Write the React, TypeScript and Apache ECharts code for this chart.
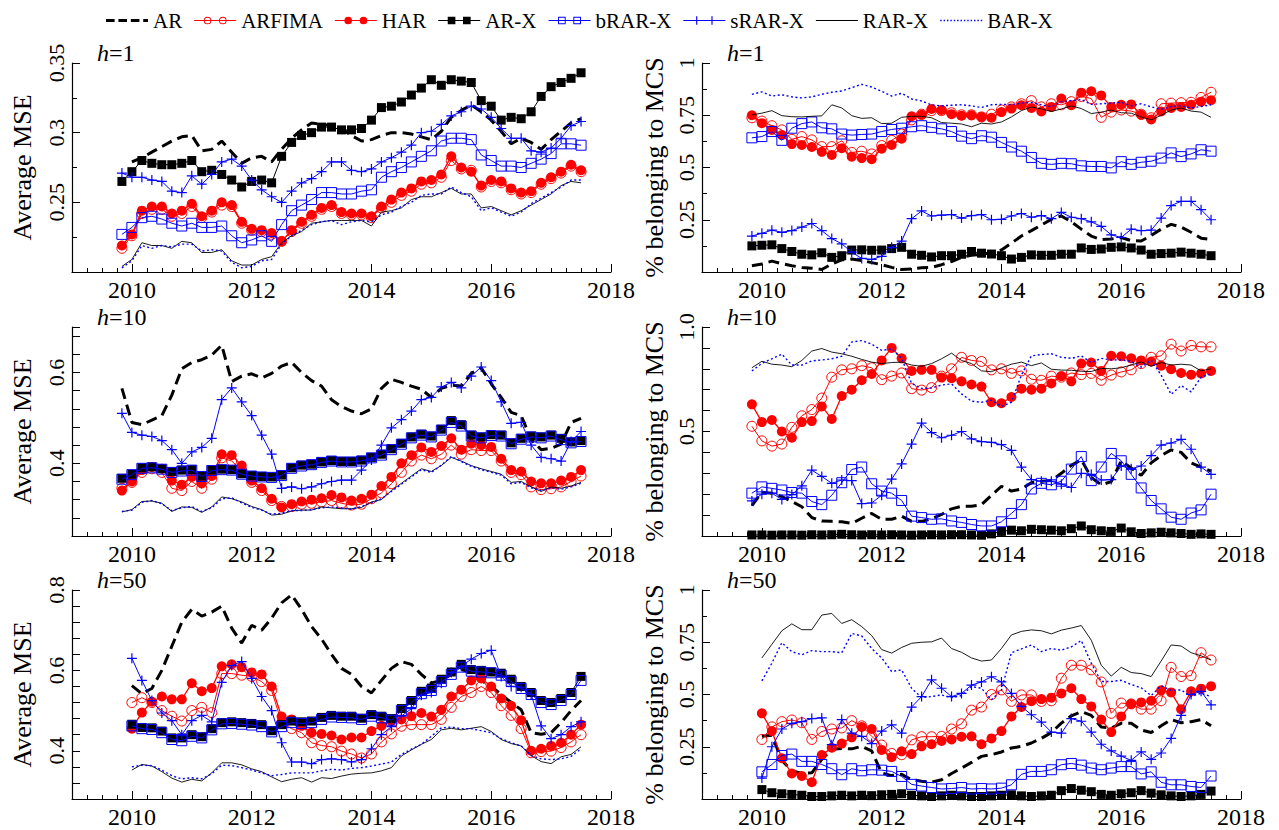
import React, { useEffect, useRef } from 'react';
import * as echarts from 'echarts';

// ---------------------------------------------------------------------------
// Sampling dates (decimal years, one observation every second month)
// ---------------------------------------------------------------------------
function bimonthly(year: number, month: number, count: number): number[] {
  const out: number[] = [];
  for (let i = 0; i < count; i++) out.push(+(year + (month - 1 + 2 * i) / 12).toFixed(4));
  return out;
}
const DATES_A = bimonthly(2009, 11, 47); // h=1 and h=10 panels
const DATES_B = bimonthly(2010, 1, 46); // h=50 panels

const MODELS = ['AR', 'ARFIMA', 'HAR', 'AR-X', 'bRAR-X', 'sRAR-X', 'RAR-X', 'BAR-X'];
const X_LABEL_YEARS = [2010, 2012, 2014, 2016, 2018];

// ---------------------------------------------------------------------------
// Average MSE, h = 1
// ---------------------------------------------------------------------------
const MSE_H1_AR = [null,
  0.279, 0.282, 0.286, 0.290, 0.294, 0.297, 0.298, 0.287, 0.288, 0.294, 0.286, 0.278,
  0.282, 0.283, 0.279, 0.288, 0.296, 0.302, 0.307, 0.306, 0.305, 0.303, 0.298, 0.294,
  0.295, 0.298, 0.300, 0.300, 0.299, 0.297, 0.295, 0.301, 0.311, 0.316, 0.320, 0.315,
  0.309, 0.301, 0.292, 0.296, 0.293, 0.288, 0.295, 0.301, 0.307, 0.310];
const MSE_H1_ARFIMA = [0.217,
  0.226, 0.242, 0.245, 0.245, 0.240, 0.242, 0.247, 0.239, 0.243, 0.248, 0.247, 0.235,
  0.230, 0.229, 0.227, 0.222, 0.229, 0.235, 0.240, 0.245, 0.247, 0.242, 0.241, 0.241,
  0.239, 0.246, 0.250, 0.255, 0.258, 0.263, 0.264, 0.268, 0.280, 0.274, 0.273, 0.261,
  0.265, 0.264, 0.259, 0.256, 0.257, 0.263, 0.267, 0.271, 0.276, 0.272];
const MSE_H1_HAR = [0.219,
  0.227, 0.244, 0.247, 0.247, 0.242, 0.244, 0.249, 0.240, 0.244, 0.250, 0.248, 0.236,
  0.231, 0.230, 0.228, 0.222, 0.230, 0.236, 0.241, 0.246, 0.248, 0.243, 0.242, 0.242,
  0.240, 0.247, 0.252, 0.257, 0.260, 0.265, 0.266, 0.270, 0.283, 0.275, 0.272, 0.262,
  0.266, 0.265, 0.260, 0.257, 0.258, 0.264, 0.268, 0.272, 0.277, 0.273];
const MSE_H1_ARX = [0.265,
  0.272, 0.280, 0.278, 0.277, 0.277, 0.278, 0.280, 0.272, 0.273, 0.270, 0.266, 0.261,
  0.265, 0.266, 0.264, 0.283, 0.293, 0.298, 0.300, 0.304, 0.304, 0.302, 0.302, 0.303,
  0.309, 0.318, 0.319, 0.322, 0.327, 0.332, 0.338, 0.334, 0.338, 0.337, 0.336, 0.323,
  0.319, 0.309, 0.311, 0.310, 0.315, 0.326, 0.333, 0.336, 0.339, 0.343];
const MSE_H1_BRARX = [0.227,
  0.232, 0.239, 0.240, 0.238, 0.235, 0.233, 0.235, 0.232, 0.232, 0.233, 0.226, 0.221,
  0.223, 0.226, 0.222, 0.234, 0.244, 0.248, 0.252, 0.257, 0.257, 0.256, 0.256, 0.258,
  0.259, 0.268, 0.272, 0.275, 0.279, 0.283, 0.287, 0.294, 0.296, 0.296, 0.295, 0.284,
  0.280, 0.276, 0.276, 0.275, 0.278, 0.281, 0.285, 0.292, 0.292, 0.291];
const MSE_H1_SRARX = [0.271,
  0.268, 0.268, 0.266, 0.265, 0.258, 0.257, 0.269, 0.263, 0.270, 0.279, 0.281, 0.276,
  0.266, 0.259, 0.254, 0.250, 0.258, 0.264, 0.267, 0.272, 0.279, 0.279, 0.273, 0.272,
  0.274, 0.279, 0.282, 0.286, 0.291, 0.300, 0.301, 0.306, 0.312, 0.315, 0.319, 0.317,
  0.311, 0.303, 0.296, 0.296, 0.287, 0.286, 0.289, 0.296, 0.305, 0.308];
const MSE_H1_RARX = [0.204,
  0.209, 0.221, 0.219, 0.219, 0.217, 0.222, 0.221, 0.214, 0.214, 0.216, 0.208, 0.205,
  0.205, 0.209, 0.211, 0.221, 0.226, 0.229, 0.235, 0.236, 0.237, 0.237, 0.237, 0.237,
  0.233, 0.243, 0.244, 0.246, 0.252, 0.254, 0.254, 0.257, 0.260, 0.256, 0.256, 0.246,
  0.247, 0.244, 0.241, 0.244, 0.248, 0.252, 0.256, 0.262, 0.265, 0.264];
const MSE_H1_BARX = [0.203,
  0.208, 0.219, 0.217, 0.219, 0.218, 0.220, 0.220, 0.215, 0.216, 0.215, 0.207, 0.203,
  0.204, 0.208, 0.209, 0.220, 0.226, 0.230, 0.234, 0.236, 0.237, 0.234, 0.236, 0.237,
  0.236, 0.241, 0.243, 0.247, 0.250, 0.255, 0.256, 0.256, 0.261, 0.257, 0.254, 0.244,
  0.246, 0.243, 0.240, 0.243, 0.249, 0.253, 0.257, 0.261, 0.266, 0.266];

// ---------------------------------------------------------------------------
// Share of windows in the model confidence set, h = 1
// ---------------------------------------------------------------------------
const MCS_H1_AR = [0.030,
  0.038, 0.052, 0.040, 0.030, 0.022, 0.018, 0.012, 0.038, 0.058, 0.062, 0.055, 0.045,
  0.035, 0.022, 0.012, 0.015, 0.020, 0.022, 0.035, 0.050, 0.070, 0.080, 0.085, 0.092,
  0.105, 0.138, 0.172, 0.198, 0.225, 0.252, 0.268, 0.240, 0.205, 0.172, 0.155, 0.158,
  0.165, 0.150, 0.148, 0.175, 0.205, 0.228, 0.215, 0.190, 0.162, 0.155];
const MCS_H1_ARFIMA = [0.738,
  0.722, 0.700, 0.680, 0.635, 0.648, 0.632, 0.600, 0.600, 0.628, 0.572, 0.578, 0.565,
  0.605, 0.630, 0.660, 0.728, 0.755, 0.772, 0.772, 0.762, 0.752, 0.752, 0.742, 0.755,
  0.775, 0.790, 0.805, 0.820, 0.790, 0.805, 0.800, 0.815, 0.840, 0.830, 0.740, 0.765,
  0.775, 0.770, 0.755, 0.738, 0.805, 0.808, 0.810, 0.812, 0.835, 0.860];
const MCS_H1_HAR = [0.750,
  0.712, 0.680, 0.655, 0.612, 0.608, 0.598, 0.575, 0.560, 0.592, 0.552, 0.545, 0.540,
  0.590, 0.608, 0.638, 0.745, 0.752, 0.780, 0.775, 0.755, 0.748, 0.750, 0.742, 0.738,
  0.765, 0.782, 0.798, 0.785, 0.768, 0.790, 0.830, 0.798, 0.858, 0.865, 0.845, 0.790,
  0.800, 0.802, 0.752, 0.730, 0.768, 0.785, 0.790, 0.800, 0.815, 0.822];
const MCS_H1_ARX = [0.125,
  0.128, 0.130, 0.112, 0.098, 0.085, 0.082, 0.092, 0.070, 0.078, 0.105, 0.106, 0.104,
  0.105, 0.112, 0.118, 0.085, 0.080, 0.072, 0.078, 0.078, 0.085, 0.098, 0.090, 0.086,
  0.078, 0.062, 0.070, 0.082, 0.080, 0.080, 0.085, 0.085, 0.115, 0.108, 0.110, 0.118,
  0.120, 0.115, 0.105, 0.085, 0.088, 0.090, 0.095, 0.090, 0.085, 0.078];
const MCS_H1_BRARX = [0.642,
  0.648, 0.672, 0.630, 0.688, 0.710, 0.718, 0.690, 0.685, 0.660, 0.655, 0.658, 0.660,
  0.672, 0.682, 0.688, 0.695, 0.700, 0.692, 0.685, 0.672, 0.650, 0.638, 0.652, 0.645,
  0.620, 0.598, 0.578, 0.548, 0.520, 0.515, 0.520, 0.518, 0.508, 0.505, 0.505, 0.498,
  0.528, 0.515, 0.525, 0.530, 0.545, 0.570, 0.552, 0.565, 0.585, 0.578];
const MCS_H1_SRARX = [0.172,
  0.185, 0.200, 0.190, 0.198, 0.215, 0.232, 0.198, 0.160, 0.135, 0.095, 0.065, 0.060,
  0.075, 0.118, 0.148, 0.255, 0.292, 0.268, 0.272, 0.275, 0.258, 0.270, 0.275, 0.250,
  0.252, 0.268, 0.280, 0.262, 0.270, 0.255, 0.285, 0.262, 0.255, 0.240, 0.218, 0.178,
  0.165, 0.205, 0.198, 0.200, 0.258, 0.318, 0.338, 0.338, 0.298, 0.250];
const MCS_H1_RARX = [0.752,
  0.760, 0.772, 0.748, 0.743, 0.742, 0.745, 0.747, 0.800, 0.785, 0.748, 0.735, 0.738,
  0.710, 0.712, 0.740, 0.745, 0.745, 0.738, 0.715, 0.712, 0.708, 0.695, 0.712, 0.708,
  0.718, 0.742, 0.772, 0.790, 0.780, 0.768, 0.780, 0.795, 0.782, 0.758, 0.765, 0.775,
  0.762, 0.760, 0.742, 0.728, 0.750, 0.775, 0.785, 0.770, 0.765, 0.740];
const MCS_H1_BARX = [0.850,
  0.862, 0.842, 0.848, 0.838, 0.833, 0.838, 0.850, 0.860, 0.866, 0.882, 0.898, 0.885,
  0.865, 0.842, 0.855, 0.828, 0.818, 0.800, 0.795, 0.798, 0.800, 0.795, 0.787, 0.800,
  0.802, 0.800, 0.808, 0.812, 0.800, 0.790, 0.815, 0.820, 0.825, 0.802, 0.805, 0.808,
  0.812, 0.795, 0.805, 0.790, 0.778, 0.792, 0.795, 0.785, 0.792, 0.800];

// ---------------------------------------------------------------------------
// Average MSE, h = 10
// ---------------------------------------------------------------------------
const MSE_H10_AR = [0.565,
  0.490, 0.485, 0.495, 0.505, 0.550, 0.608, 0.622, 0.628, 0.638, 0.660, 0.580, 0.592,
  0.597, 0.588, 0.598, 0.614, 0.622, 0.600, 0.582, 0.570, 0.540, 0.525, 0.515, 0.509,
  0.520, 0.565, 0.585, 0.578, 0.570, 0.563, 0.545, 0.565, 0.572, 0.570, 0.598, 0.610,
  0.575, 0.545, 0.512, 0.505, 0.452, 0.430, 0.433, 0.442, 0.490, 0.499];
const MSE_H10_ARFIMA = [0.345,
  0.358, 0.380, 0.388, 0.380, 0.345, 0.340, 0.360, 0.345, 0.365, 0.412, 0.405, 0.385,
  0.358, 0.340, 0.318, 0.305, 0.305, 0.310, 0.312, 0.315, 0.318, 0.312, 0.308, 0.310,
  0.322, 0.335, 0.355, 0.380, 0.405, 0.418, 0.410, 0.420, 0.440, 0.420, 0.430, 0.428,
  0.428, 0.405, 0.380, 0.375, 0.348, 0.342, 0.344, 0.348, 0.360, 0.372];
const MSE_H10_HAR = [0.340,
  0.360, 0.385, 0.392, 0.388, 0.362, 0.353, 0.370, 0.356, 0.372, 0.420, 0.418, 0.395,
  0.362, 0.345, 0.322, 0.303, 0.310, 0.316, 0.320, 0.323, 0.330, 0.325, 0.318, 0.322,
  0.331, 0.350, 0.370, 0.400, 0.418, 0.435, 0.425, 0.438, 0.455, 0.430, 0.443, 0.440,
  0.436, 0.410, 0.385, 0.382, 0.360, 0.356, 0.356, 0.362, 0.370, 0.385];
const MSE_H10_ARX = [0.367,
  0.376, 0.390, 0.392, 0.388, 0.382, 0.385, 0.386, 0.372, 0.385, 0.387, 0.386, 0.377,
  0.373, 0.371, 0.370, 0.374, 0.390, 0.396, 0.398, 0.403, 0.406, 0.404, 0.404, 0.407,
  0.413, 0.420, 0.432, 0.444, 0.458, 0.464, 0.460, 0.475, 0.494, 0.485, 0.462, 0.458,
  0.463, 0.462, 0.445, 0.455, 0.460, 0.458, 0.462, 0.455, 0.447, 0.450];
const MSE_H10_BRARX = [0.365,
  0.375, 0.389, 0.390, 0.387, 0.380, 0.383, 0.385, 0.371, 0.384, 0.386, 0.385, 0.376,
  0.372, 0.370, 0.369, 0.373, 0.389, 0.394, 0.397, 0.402, 0.405, 0.403, 0.403, 0.405,
  0.412, 0.418, 0.430, 0.442, 0.456, 0.462, 0.458, 0.473, 0.490, 0.482, 0.460, 0.456,
  0.461, 0.460, 0.443, 0.453, 0.458, 0.456, 0.460, 0.452, 0.445, 0.448];
const MSE_H10_SRARX = [0.510,
  0.468, 0.462, 0.459, 0.450, 0.430, 0.400, 0.425, 0.435, 0.455, 0.540, 0.566, 0.535,
  0.505, 0.462, 0.420, 0.345, 0.348, 0.344, 0.348, 0.355, 0.360, 0.363, 0.363, 0.385,
  0.407, 0.440, 0.478, 0.496, 0.515, 0.540, 0.545, 0.568, 0.578, 0.566, 0.592, 0.612,
  0.582, 0.535, 0.488, 0.490, 0.440, 0.413, 0.410, 0.405, 0.448, 0.470];
const MSE_H10_RARX = [0.293,
  0.298, 0.316, 0.317, 0.312, 0.294, 0.304, 0.303, 0.292, 0.304, 0.326, 0.322, 0.315,
  0.305, 0.298, 0.286, 0.288, 0.295, 0.297, 0.297, 0.304, 0.302, 0.300, 0.300, 0.303,
  0.315, 0.320, 0.340, 0.356, 0.372, 0.388, 0.382, 0.395, 0.413, 0.405, 0.395, 0.388,
  0.382, 0.376, 0.358, 0.360, 0.348, 0.338, 0.348, 0.345, 0.350, 0.358];
const MSE_H10_BARX = [0.294,
  0.297, 0.314, 0.318, 0.311, 0.296, 0.302, 0.305, 0.294, 0.302, 0.322, 0.324, 0.313,
  0.303, 0.297, 0.288, 0.290, 0.296, 0.296, 0.298, 0.302, 0.304, 0.302, 0.299, 0.305,
  0.313, 0.322, 0.338, 0.354, 0.370, 0.386, 0.380, 0.396, 0.415, 0.404, 0.393, 0.386,
  0.380, 0.374, 0.355, 0.358, 0.346, 0.340, 0.346, 0.343, 0.348, 0.356];

// ---------------------------------------------------------------------------
// Share of windows in the model confidence set, h = 10
// ---------------------------------------------------------------------------
const MCS_H10_AR = [0.145,
  0.210, 0.205, 0.188, 0.165, 0.140, 0.088, 0.072, 0.070, 0.068, 0.060, 0.085, 0.108,
  0.080, 0.080, 0.095, 0.070, 0.070, 0.082, 0.103, 0.130, 0.142, 0.142, 0.150, 0.195,
  0.238, 0.215, 0.225, 0.255, 0.262, 0.265, 0.300, 0.338, 0.365, 0.280, 0.245, 0.260,
  0.360, 0.325, 0.290, 0.350, 0.385, 0.412, 0.400, 0.350, 0.330, 0.310];
const MCS_H10_ARFIMA = [0.525,
  0.455, 0.430, 0.440, 0.520, 0.575, 0.605, 0.660, 0.760, 0.795, 0.800, 0.815, 0.805,
  0.748, 0.765, 0.780, 0.705, 0.698, 0.710, 0.765, 0.800, 0.855, 0.840, 0.835, 0.795,
  0.800, 0.778, 0.790, 0.750, 0.745, 0.765, 0.760, 0.780, 0.772, 0.778, 0.745, 0.770,
  0.785, 0.795, 0.825, 0.855, 0.862, 0.918, 0.885, 0.912, 0.905, 0.905];
const MCS_H10_HAR = [0.630,
  0.545, 0.555, 0.500, 0.470, 0.545, 0.550, 0.620, 0.560, 0.670, 0.700, 0.745, 0.775,
  0.840, 0.900, 0.850, 0.790, 0.795, 0.795, 0.758, 0.755, 0.740, 0.725, 0.715, 0.640,
  0.635, 0.665, 0.705, 0.700, 0.705, 0.730, 0.765, 0.740, 0.825, 0.830, 0.790, 0.862,
  0.860, 0.850, 0.840, 0.835, 0.815, 0.798, 0.780, 0.772, 0.778, 0.790];
const MCS_H10_ARX = [0.005,
  0.005, 0.004, 0.005, 0.005, 0.004, 0.006, 0.005, 0.006, 0.008, 0.006, 0.005, 0.006,
  0.005, 0.006, 0.005, 0.004, 0.005, 0.006, 0.005, 0.006, 0.006, 0.005, 0.004, 0.010,
  0.022, 0.028, 0.025, 0.032, 0.030, 0.028, 0.025, 0.035, 0.048, 0.030, 0.025, 0.022,
  0.038, 0.020, 0.012, 0.015, 0.018, 0.015, 0.012, 0.008, 0.010, 0.008];
const MCS_H10_BRARX = [0.205,
  0.235, 0.228, 0.220, 0.208, 0.205, 0.165, 0.150, 0.195, 0.255, 0.318, 0.330, 0.250,
  0.215, 0.205, 0.170, 0.095, 0.088, 0.080, 0.082, 0.072, 0.065, 0.055, 0.048, 0.048,
  0.068, 0.108, 0.150, 0.225, 0.252, 0.245, 0.262, 0.320, 0.380, 0.265, 0.330, 0.395,
  0.360, 0.295, 0.230, 0.170, 0.130, 0.090, 0.080, 0.110, 0.125, 0.200];
const MCS_H10_SRARX = [0.168,
  0.200, 0.205, 0.175, 0.198, 0.240, 0.315, 0.285, 0.252, 0.268, 0.265, 0.155, 0.158,
  0.195, 0.272, 0.345, 0.440, 0.540, 0.495, 0.470, 0.482, 0.500, 0.465, 0.452, 0.448,
  0.437, 0.410, 0.330, 0.270, 0.262, 0.262, 0.248, 0.232, 0.300, 0.295, 0.268, 0.270,
  0.335, 0.322, 0.335, 0.385, 0.435, 0.445, 0.462, 0.415, 0.330, 0.295];
const MCS_H10_RARX = [0.805,
  0.836, 0.822, 0.818, 0.810, 0.840, 0.885, 0.897, 0.880, 0.872, 0.860, 0.845, 0.832,
  0.825, 0.830, 0.832, 0.818, 0.812, 0.825, 0.848, 0.875, 0.840, 0.825, 0.790, 0.786,
  0.805, 0.822, 0.832, 0.815, 0.828, 0.798, 0.794, 0.793, 0.788, 0.787, 0.802, 0.800,
  0.805, 0.818, 0.833, 0.812, 0.830, 0.818, 0.822, 0.818, 0.790, 0.800];
const MCS_H10_BARX = [0.790,
  0.826, 0.848, 0.870, 0.818, 0.818, 0.838, 0.842, 0.848, 0.860, 0.928, 0.935, 0.918,
  0.888, 0.895, 0.850, 0.730, 0.706, 0.708, 0.722, 0.728, 0.680, 0.645, 0.640, 0.650,
  0.620, 0.640, 0.770, 0.862, 0.868, 0.872, 0.855, 0.850, 0.862, 0.830, 0.850, 0.842,
  0.843, 0.835, 0.808, 0.842, 0.770, 0.678, 0.720, 0.690, 0.760, 0.775];

// ---------------------------------------------------------------------------
// Average MSE, h = 50
// ---------------------------------------------------------------------------
const MSE_H50_AR = [
  0.562, 0.542, 0.555, 0.600, 0.660, 0.720, 0.752, 0.735, 0.745, 0.760, 0.705, 0.668,
  0.712, 0.700, 0.730, 0.768, 0.788, 0.752, 0.709, 0.678, 0.640, 0.605, 0.590, 0.560,
  0.544, 0.575, 0.605, 0.622, 0.615, 0.590, 0.569, 0.575, 0.590, 0.602, 0.595, 0.575,
  0.560, 0.540, 0.520, 0.502, 0.445, 0.441, 0.445, 0.470, 0.500, 0.525];
const MSE_H50_ARFIMA = [
  0.520, 0.532, 0.520, 0.500, 0.486, 0.474, 0.500, 0.508, 0.495, 0.592, 0.592, 0.588,
  0.585, 0.572, 0.550, 0.470, 0.455, 0.445, 0.420, 0.413, 0.410, 0.399, 0.392, 0.382,
  0.392, 0.422, 0.442, 0.461, 0.465, 0.465, 0.465, 0.478, 0.508, 0.535, 0.545, 0.560,
  0.545, 0.512, 0.488, 0.455, 0.395, 0.398, 0.399, 0.408, 0.422, 0.440];
const MSE_H50_HAR = [
  0.455, 0.495, 0.522, 0.535, 0.528, 0.528, 0.568, 0.548, 0.556, 0.610, 0.615, 0.608,
  0.595, 0.590, 0.560, 0.485, 0.478, 0.462, 0.445, 0.442, 0.438, 0.428, 0.433, 0.433,
  0.449, 0.462, 0.474, 0.478, 0.486, 0.494, 0.485, 0.502, 0.535, 0.552, 0.575, 0.580,
  0.560, 0.530, 0.512, 0.476, 0.400, 0.405, 0.412, 0.420, 0.440, 0.465];
const MSE_H50_ARX = [
  0.466, 0.458, 0.457, 0.449, 0.432, 0.432, 0.440, 0.435, 0.455, 0.470, 0.472, 0.470,
  0.468, 0.465, 0.450, 0.465, 0.474, 0.472, 0.474, 0.483, 0.488, 0.486, 0.486, 0.481,
  0.490, 0.486, 0.480, 0.505, 0.525, 0.548, 0.556, 0.578, 0.596, 0.615, 0.602, 0.600,
  0.596, 0.593, 0.578, 0.560, 0.545, 0.525, 0.520, 0.530, 0.545, 0.585];
const MSE_H50_BRARX = [
  0.462, 0.455, 0.453, 0.445, 0.428, 0.425, 0.436, 0.432, 0.452, 0.467, 0.468, 0.466,
  0.464, 0.460, 0.447, 0.460, 0.470, 0.468, 0.470, 0.478, 0.484, 0.483, 0.482, 0.478,
  0.486, 0.482, 0.476, 0.500, 0.520, 0.542, 0.550, 0.572, 0.590, 0.608, 0.598, 0.596,
  0.594, 0.588, 0.572, 0.555, 0.540, 0.520, 0.515, 0.525, 0.540, 0.575];
const MSE_H50_SRARX = [
  0.630, 0.575, 0.525, 0.494, 0.475, 0.440, 0.475, 0.488, 0.472, 0.570, 0.612, 0.622,
  0.580, 0.535, 0.500, 0.420, 0.372, 0.372, 0.368, 0.378, 0.380, 0.378, 0.372, 0.378,
  0.405, 0.440, 0.460, 0.486, 0.505, 0.538, 0.545, 0.568, 0.595, 0.610, 0.628, 0.642,
  0.650, 0.585, 0.560, 0.558, 0.540, 0.462, 0.430, 0.440, 0.460, 0.472];
const MSE_H50_RARX = [
  0.352, 0.366, 0.362, 0.348, 0.332, 0.322, 0.329, 0.325, 0.345, 0.370, 0.370, 0.365,
  0.355, 0.348, 0.335, 0.323, 0.329, 0.333, 0.322, 0.333, 0.331, 0.337, 0.342, 0.344,
  0.345, 0.350, 0.358, 0.387, 0.402, 0.416, 0.428, 0.452, 0.456, 0.452, 0.456, 0.460,
  0.448, 0.428, 0.418, 0.412, 0.388, 0.373, 0.368, 0.385, 0.391, 0.410];
const MSE_H50_BARX = [
  0.360, 0.364, 0.363, 0.352, 0.338, 0.330, 0.333, 0.330, 0.343, 0.364, 0.363, 0.358,
  0.352, 0.345, 0.338, 0.341, 0.345, 0.345, 0.345, 0.350, 0.354, 0.352, 0.356, 0.358,
  0.362, 0.367, 0.372, 0.391, 0.404, 0.416, 0.436, 0.457, 0.459, 0.455, 0.455, 0.450,
  0.445, 0.430, 0.420, 0.412, 0.388, 0.380, 0.378, 0.380, 0.386, 0.405];

// ---------------------------------------------------------------------------
// Share of windows in the model confidence set, h = 50
// ---------------------------------------------------------------------------
const MCS_H50_AR = [
  0.300, 0.305, 0.185, 0.135, 0.122, 0.125, 0.190, 0.238, 0.242, 0.240, 0.252, 0.230,
  0.125, 0.112, 0.118, 0.092, 0.085, 0.080, 0.092, 0.122, 0.148, 0.175, 0.204, 0.212,
  0.225, 0.244, 0.252, 0.268, 0.290, 0.318, 0.363, 0.398, 0.418, 0.400, 0.345, 0.340,
  0.362, 0.362, 0.330, 0.318, 0.350, 0.380, 0.365, 0.370, 0.380, 0.350];
const MCS_H50_ARFIMA = [
  0.285, 0.345, 0.370, 0.378, 0.365, 0.285, 0.323, 0.335, 0.340, 0.375, 0.350, 0.300,
  0.258, 0.218, 0.212, 0.283, 0.298, 0.298, 0.300, 0.335, 0.360, 0.425, 0.440, 0.500,
  0.522, 0.467, 0.498, 0.498, 0.467, 0.470, 0.578, 0.640, 0.640, 0.618, 0.560, 0.410,
  0.459, 0.455, 0.430, 0.430, 0.470, 0.630, 0.586, 0.590, 0.700, 0.665];
const MCS_H50_HAR = [
  0.410, 0.325, 0.195, 0.122, 0.110, 0.080, 0.210, 0.245, 0.265, 0.295, 0.345, 0.335,
  0.235, 0.200, 0.228, 0.215, 0.252, 0.262, 0.278, 0.285, 0.298, 0.300, 0.262, 0.290,
  0.325, 0.395, 0.440, 0.468, 0.478, 0.485, 0.505, 0.530, 0.478, 0.443, 0.380, 0.320,
  0.395, 0.455, 0.462, 0.470, 0.520, 0.510, 0.430, 0.515, 0.528, 0.540];
const MCS_H50_ARX = [
  0.045, 0.030, 0.025, 0.022, 0.018, 0.012, 0.012, 0.015, 0.018, 0.015, 0.018, 0.016,
  0.020, 0.022, 0.025, 0.018, 0.015, 0.012, 0.015, 0.018, 0.015, 0.012, 0.012, 0.015,
  0.018, 0.020, 0.015, 0.012, 0.015, 0.018, 0.040, 0.050, 0.042, 0.035, 0.022, 0.018,
  0.025, 0.030, 0.040, 0.028, 0.020, 0.015, 0.012, 0.015, 0.022, 0.038];
const MCS_H50_BRARX = [
  0.130, 0.165, 0.208, 0.215, 0.180, 0.180, 0.165, 0.145, 0.116, 0.145, 0.135, 0.140,
  0.138, 0.132, 0.108, 0.070, 0.062, 0.055, 0.048, 0.050, 0.055, 0.048, 0.050, 0.048,
  0.052, 0.068, 0.118, 0.132, 0.132, 0.140, 0.164, 0.170, 0.162, 0.148, 0.140, 0.148,
  0.155, 0.155, 0.120, 0.130, 0.080, 0.068, 0.068, 0.060, 0.055, 0.110];
const MCS_H50_SRARX = [
  0.100, 0.250, 0.335, 0.362, 0.370, 0.385, 0.388, 0.260, 0.380, 0.315, 0.300, 0.265,
  0.325, 0.355, 0.315, 0.440, 0.490, 0.570, 0.530, 0.490, 0.505, 0.545, 0.560, 0.585,
  0.560, 0.505, 0.443, 0.403, 0.368, 0.320, 0.315, 0.385, 0.372, 0.320, 0.262, 0.230,
  0.205, 0.185, 0.225, 0.190, 0.220, 0.290, 0.400, 0.500, 0.515, 0.450];
const MCS_H50_RARX = [
  0.675, 0.740, 0.805, 0.838, 0.810, 0.810, 0.880, 0.888, 0.840, 0.858, 0.825, 0.782,
  0.715, 0.698, 0.725, 0.745, 0.750, 0.752, 0.770, 0.720, 0.702, 0.675, 0.660, 0.665,
  0.720, 0.785, 0.802, 0.809, 0.805, 0.790, 0.808, 0.818, 0.830, 0.760, 0.640, 0.588,
  0.630, 0.605, 0.600, 0.586, 0.660, 0.737, 0.732, 0.700, 0.685, 0.665];
const MCS_H50_BARX = [
  0.565, 0.650, 0.748, 0.705, 0.690, 0.710, 0.705, 0.705, 0.700, 0.792, 0.780, 0.720,
  0.675, 0.610, 0.618, 0.530, 0.485, 0.490, 0.498, 0.485, 0.495, 0.538, 0.530, 0.475,
  0.520, 0.700, 0.718, 0.737, 0.705, 0.720, 0.712, 0.728, 0.758, 0.650, 0.562, 0.562,
  0.568, 0.548, 0.532, 0.495, 0.542, 0.520, 0.522, 0.490, 0.506, 0.490];

// ---------------------------------------------------------------------------
// Panel layout (which arrays go in which grid) and appearance
// ---------------------------------------------------------------------------
const FONT = '"Liberation Serif", "Times New Roman", Times, serif';
const RED = '#ff0000';
const BLUE = '#0000ff';
const BLACK = '#000000';

type Panel = {
  h: string;
  left: number;
  top: number;
  dates: number[];
  series: (number | null)[][];
  yName: string;
  nameGap: number;
  min: number;
  max: number;
  interval: number;
  minor: number;
  labels: number[];
  digits: number;
};

const GRID_W = 539;
const GRID_H = 209;
const LEFT_A = 72;
const LEFT_B = 702;

const PANELS: Panel[] = [
  {
    h: '1', left: LEFT_A, top: 63, dates: DATES_A,
    series: [MSE_H1_AR, MSE_H1_ARFIMA, MSE_H1_HAR, MSE_H1_ARX, MSE_H1_BRARX, MSE_H1_SRARX, MSE_H1_RARX, MSE_H1_BARX],
    yName: 'Average MSE', nameGap: 37, min: 0.2, max: 0.35, interval: 0.05, minor: 2, labels: [0.25, 0.3, 0.35], digits: 0,
  },
  {
    h: '1', left: LEFT_B, top: 63, dates: DATES_A,
    series: [MCS_H1_AR, MCS_H1_ARFIMA, MCS_H1_HAR, MCS_H1_ARX, MCS_H1_BRARX, MCS_H1_SRARX, MCS_H1_RARX, MCS_H1_BARX],
    yName: '% belonging to MCS', nameGap: 35, min: 0, max: 1, interval: 0.25, minor: 2, labels: [0.25, 0.5, 0.75, 1], digits: 0,
  },
  {
    h: '10', left: LEFT_A, top: 327, dates: DATES_A,
    series: [MSE_H10_AR, MSE_H10_ARFIMA, MSE_H10_HAR, MSE_H10_ARX, MSE_H10_BRARX, MSE_H10_SRARX, MSE_H10_RARX, MSE_H10_BARX],
    yName: 'Average MSE', nameGap: 37, min: 0.24, max: 0.7, interval: 0.04, minor: 0, labels: [0.4, 0.6], digits: 1,
  },
  {
    h: '10', left: LEFT_B, top: 327, dates: DATES_A,
    series: [MCS_H10_AR, MCS_H10_ARFIMA, MCS_H10_HAR, MCS_H10_ARX, MCS_H10_BRARX, MCS_H10_SRARX, MCS_H10_RARX, MCS_H10_BARX],
    yName: '% belonging to MCS', nameGap: 35, min: 0, max: 1, interval: 0.1, minor: 0, labels: [0.5, 1], digits: 1,
  },
  {
    h: '50', left: LEFT_A, top: 590, dates: DATES_B,
    series: [MSE_H50_AR, MSE_H50_ARFIMA, MSE_H50_HAR, MSE_H50_ARX, MSE_H50_BRARX, MSE_H50_SRARX, MSE_H50_RARX, MSE_H50_BARX],
    yName: 'Average MSE', nameGap: 37, min: 0.28, max: 0.8, interval: 0.04, minor: 0, labels: [0.4, 0.6, 0.8], digits: 1,
  },
  {
    h: '50', left: LEFT_B, top: 590, dates: DATES_B,
    series: [MCS_H50_AR, MCS_H50_ARFIMA, MCS_H50_HAR, MCS_H50_ARX, MCS_H50_BRARX, MCS_H50_SRARX, MCS_H50_RARX, MCS_H50_BARX],
    yName: '% belonging to MCS', nameGap: 35, min: 0, max: 1, interval: 0.25, minor: 2, labels: [0.25, 0.5, 0.75, 1], digits: 0,
  },
];

const CLEAR = 'rgba(0,0,0,0)';
const PLUS = 'path://M0,5L10,5M5,0L5,10';

// line and marker look of each model, in legend order
const MODEL_STYLE: Record<string, any> = {
  'AR': { symbol: 'none', lineStyle: { color: BLACK, width: 3, type: [11, 6] }, itemStyle: { color: BLACK } },
  'ARFIMA': { symbol: 'circle', symbolSize: 10, lineStyle: { color: RED, width: 1 }, itemStyle: { color: CLEAR, borderColor: RED, borderWidth: 1 } },
  'HAR': { symbol: 'circle', symbolSize: 10, lineStyle: { color: RED, width: 1.3 }, itemStyle: { color: RED } },
  'AR-X': { symbol: 'rect', symbolSize: 9, lineStyle: { color: BLACK, width: 1 }, itemStyle: { color: BLACK } },
  'bRAR-X': { symbol: 'rect', symbolSize: 10, lineStyle: { color: BLUE, width: 1 }, itemStyle: { color: CLEAR, borderColor: BLUE, borderWidth: 1 } },
  'sRAR-X': { symbol: PLUS, symbolSize: 10, lineStyle: { color: BLUE, width: 1 }, itemStyle: { color: BLUE, borderColor: BLUE, borderWidth: 1.2 } },
  'RAR-X': { symbol: 'none', lineStyle: { color: BLACK, width: 0.9 }, itemStyle: { color: BLACK } },
  'BAR-X': { symbol: 'none', lineStyle: { color: BLUE, width: 1.4, type: [2, 2.5] }, itemStyle: { color: BLUE } },
};

// legend keys: a short line with two markers, drawn as filled outlines in a 44 x 10 box
const ring = (cx: number, r: number, w: number) =>
  `M${cx + r},5A${r},${r} 0 1,1 ${cx - r},5A${r},${r} 0 1,1 ${cx + r},5Z` +
  `M${cx + r - w},5A${r - w},${r - w} 0 1,0 ${cx - r + w},5A${r - w},${r - w} 0 1,0 ${cx + r - w},5Z`;
const disc = (cx: number, r: number) =>
  `M${cx + r},5A${r},${r} 0 1,1 ${cx - r},5A${r},${r} 0 1,1 ${cx + r},5Z`;
const square = (cx: number, s: number) => `M${cx - s / 2},${5 - s / 2}h${s}v${s}h${-s}Z`;
const squareRing = (cx: number, s: number, w: number) =>
  square(cx, s) + `M${cx - s / 2 + w},${5 - s / 2 + w}v${s - 2 * w}h${s - 2 * w}v${-(s - 2 * w)}Z`;
const bar = (t: number) => `M0,${5 - t / 2}h44v${t}h-44Z`;
const cross = (cx: number) => `M${cx - 4.5},4.4h9v1.2h-9Z` + `M${cx - 0.6},0.5h1.2v9h-1.2Z`;

const LEGEND_ICON: Record<string, string> = {
  'AR': 'M0,3.5h9v3h-9ZM13,3.5h9v3h-9ZM26,3.5h9v3h-9ZM39,3.5h5v3h-5Z',
  'ARFIMA': bar(1) + ring(14, 4, 1) + ring(30, 4, 1),
  'HAR': bar(1.2) + disc(14, 4) + disc(30, 4),
  'AR-X': bar(1) + square(14, 8) + square(30, 8),
  'bRAR-X': bar(1) + squareRing(14, 8, 1) + squareRing(30, 8, 1),
  'sRAR-X': bar(1) + cross(14) + cross(30),
  'RAR-X': bar(1),
  'BAR-X': Array.from({ length: 13 }, (_, i) => `M${i * 3.5},4.25h1.5v1.5h-1.5Z`).join(''),
};
const LEGEND_COLOR: Record<string, string> = {
  'AR': BLACK, 'ARFIMA': RED, 'HAR': RED, 'AR-X': BLACK,
  'bRAR-X': BLUE, 'sRAR-X': BLUE, 'RAR-X': BLACK, 'BAR-X': BLUE,
};

function buildOption(): echarts.EChartsCoreOption {
  const grid: any[] = [];
  const xAxis: any[] = [];
  const yAxis: any[] = [];
  const title: any[] = [];
  const series: any[] = [];

  PANELS.forEach((p, g) => {
    grid.push({ left: p.left, top: p.top, width: GRID_W, height: GRID_H, containLabel: false });

    // quarterly ticks with year labels
    xAxis.push({
      type: 'value', gridIndex: g, min: 2009, max: 2018, interval: 0.25,
      axisLine: { show: true, onZero: false, lineStyle: { color: BLACK, width: 1.2 } },
      axisTick: { show: true, inside: true, length: 4, lineStyle: { color: BLACK, width: 1 } },
      splitLine: { show: false },
      axisLabel: {
        show: true, margin: 6, color: BLACK, fontFamily: FONT, fontSize: 24,
        formatter: (v: number) => {
          const y = Math.round(v);
          return Math.abs(v - y) < 1e-6 && X_LABEL_YEARS.includes(y) ? String(y) : '';
        },
      },
    });
    // longer ticks at the labelled years
    xAxis.push({
      type: 'value', gridIndex: g, min: 2009, max: 2018, position: 'bottom',
      axisLine: { show: false },
      axisTick: { show: true, inside: true, length: 8, customValues: X_LABEL_YEARS, lineStyle: { color: BLACK, width: 1 } },
      axisLabel: { show: false },
      splitLine: { show: false },
    });

    yAxis.push({
      type: 'value', gridIndex: g, min: p.min, max: p.max, interval: p.interval,
      axisLine: { show: true, onZero: false, lineStyle: { color: BLACK, width: 1.2 } },
      axisTick: { show: true, inside: true, length: 8, lineStyle: { color: BLACK, width: 1 } },
      minorTick: { show: p.minor > 0, splitNumber: p.minor || 5, length: 5, lineStyle: { color: BLACK, width: 1 } },
      splitLine: { show: false },
      minorSplitLine: { show: false },
      axisLabel: {
        rotate: 90, margin: 5, color: BLACK, fontFamily: FONT, fontSize: 22,
        formatter: (v: number) => {
          const hit = p.labels.some((l) => Math.abs(l - v) < 1e-6);
          if (!hit) return '';
          return p.digits > 0 ? v.toFixed(p.digits) : String(+v.toFixed(3));
        },
      },
      name: p.yName, nameLocation: 'middle', nameGap: p.nameGap, nameRotate: 90,
      nameTextStyle: { color: BLACK, fontFamily: FONT, fontSize: 26 },
    });

    title.push({
      text: '{i|h}=' + p.h,
      left: p.left + 20, top: p.top - 27,
      textStyle: {
        color: BLACK, fontFamily: FONT, fontSize: 24, fontWeight: 'normal',
        rich: { i: { fontStyle: 'italic', fontFamily: FONT, fontSize: 24, color: BLACK } },
      },
    });

    MODELS.forEach((name, k) => {
      const st = MODEL_STYLE[name];
      const vals = p.series[k];
      series.push({
        type: 'line', name, xAxisIndex: 2 * g, yAxisIndex: g,
        data: p.dates.map((d, i) => [d, vals[i]]),
        symbol: st.symbol, symbolSize: st.symbolSize || 0,
        showSymbol: st.symbol !== 'none', showAllSymbol: true,
        lineStyle: st.lineStyle, itemStyle: st.itemStyle,
        connectNulls: false, silent: true, emphasis: { disabled: true },
        z: 2 + k,
      });
    });
  });

  return {
    animation: false,
    backgroundColor: '#ffffff',
    textStyle: { fontFamily: FONT },
    title,
    legend: {
      data: MODELS.map((name) => ({
        name,
        icon: 'path://' + LEGEND_ICON[name],
        itemStyle: { color: LEGEND_COLOR[name], borderWidth: 0, opacity: 1 },
      })),
      top: 5, left: 101, itemWidth: 42, itemHeight: 10, itemGap: 12,
      selectedMode: false,
      textStyle: { color: BLACK, fontFamily: FONT, fontSize: 21 },
    },
    grid, xAxis, yAxis, series,
  };
}

export default function App() {
  const ref = useRef<HTMLDivElement>(null);
  useEffect(() => {
    if (!ref.current) return;
    const chart = echarts.init(ref.current, null, { renderer: 'svg' });
    chart.setOption(buildOption());
    return () => chart.dispose();
  }, []);
  return (
    <div
      ref={ref}
      style={{ position: 'fixed', left: 0, top: 0, width: 1279, height: 830, background: '#ffffff' }}
    />
  );
}
